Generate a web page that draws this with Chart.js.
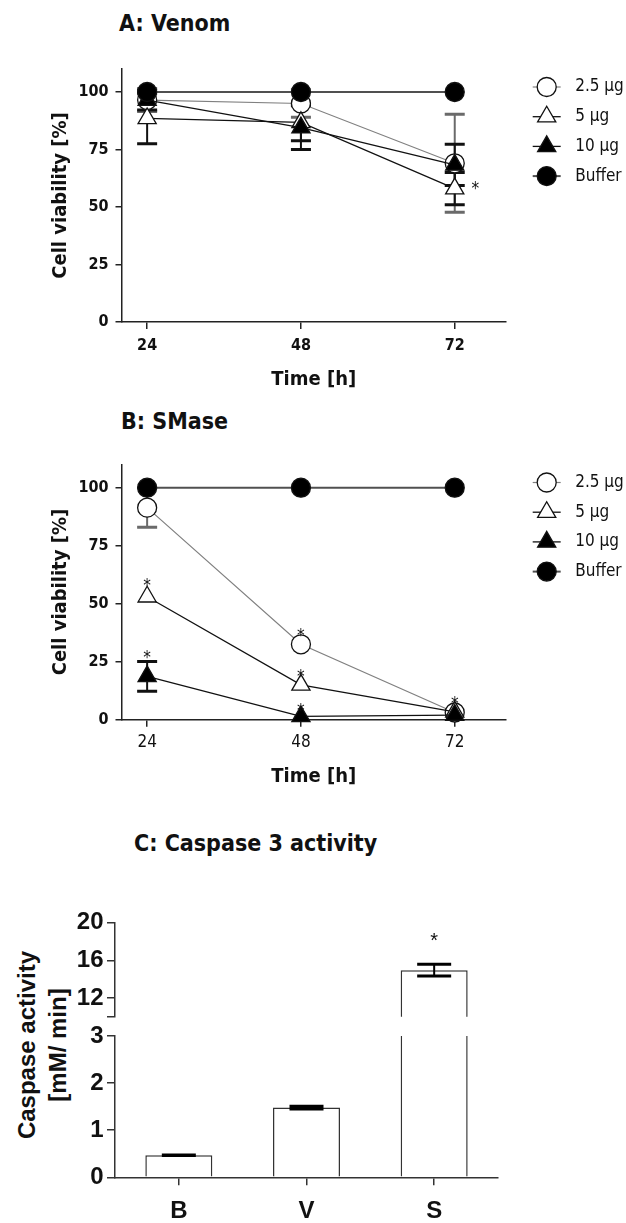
<!DOCTYPE html>
<html>
<head>
<meta charset="utf-8">
<script src="https://cdn.jsdelivr.net/npm/chart.js@4.4.1/dist/chart.umd.min.js"></script>
<style>
html,body{margin:0;padding:0;background:#fff;}
body{width:626px;height:1223px;position:relative;overflow:hidden;}
canvas{position:absolute;left:0;}
.ttl{position:absolute;font-family:"DejaVu Sans Condensed","DejaVu Sans",sans-serif;font-weight:bold;font-size:23px;line-height:23px;color:#111;white-space:nowrap;}
#cYTitle{position:absolute;width:220px;height:62px;left:-68px;top:1014px;transform:rotate(-90deg);transform-origin:50% 50%;
  font-family:"Liberation Sans",Arial,sans-serif;font-weight:bold;font-size:24px;line-height:31px;text-align:center;color:#111;white-space:nowrap;}
</style>
</head>
<body>
<div class="ttl" style="left:119px;top:12px;">A: Venom</div>
<div class="ttl" style="left:121px;top:410px;">B: SMase</div>
<div class="ttl" style="left:134px;top:832px;">C: Caspase 3 activity</div>
<div id="cYTitle">Caspase activity<br>[mM/ min]</div>

<canvas id="cA" width="626" height="400" style="top:0px;width:626px;height:400px;"></canvas>
<canvas id="cB" width="626" height="400" style="top:400px;width:626px;height:400px;"></canvas>
<canvas id="cC1" width="626" height="160" style="top:880px;width:626px;height:160px;"></canvas>
<canvas id="cC2" width="626" height="223" style="top:1000px;width:626px;height:223px;"></canvas>

<script>
// ---------------- data ----------------
const hours = [24, 48, 72];
const viabilityTicks = [0, 25, 50, 75, 100];
const doseLabels = ['2.5 \u03bcg', '5 \u03bcg', '10 \u03bcg', 'Buffer'];

// Panel A: Venom
const venom25 = [96.5, 95.0, 69.0];
const venom25Err = [5.0, 6.0, 21.3];
const venom5 = [88.5, 86.8, 58.0];
const venom5Err = [11.0, 8.0, 7.0];
const venom10 = [96.5, 84.5, 68.3];
const venom10Err = [4.3, 9.5, 9.0];
const venomBuffer = [100, 100, 100];
const venomBufferErr = [0, 0, 0];
const venomStars = [[75.2, 60]];

// Panel B: SMase
const smase25 = [91.4, 32.5, 3.1];
const smase25Err = [8.5, 0, 0];
const smase5 = [53.0, 15.0, 3.4];
const smase5Err = [0, 0, 0];
const smase10 = [18.7, 1.4, 2.0];
const smase10Err = [6.4, 0, 0];
const smaseBuffer = [100, 100, 100];
const smaseBufferErr = [0, 0, 0];
const smaseStars = [[24, 60], [24, 28.8], [48, 38.3], [48, 20.8], [48, 6.2], [72, 9.2]];

// Panel C: Caspase 3 activity
const caspaseGroups = ['B', 'V', 'S'];
const caspaseValues = [0.47, 1.48, 14.95];
const caspaseErr = [0.006, 0.03, 0.62];
const caspaseLowTicks = [0, 1, 2, 3];
const caspaseHighTicks = [10, 12, 16, 20];
const caspaseStars = [['S', 18.7]];

// ---------------- styles ----------------
const F = '"DejaVu Sans Condensed","DejaVu Sans",sans-serif';
const FA = '"Liberation Sans",Arial,sans-serif';
const AX = '#222';
const seriesStyle = [
  {line:'#808080', lw:1.2, shape:'circle',   r:9.5,  fill:'#ffffff', err:'#6a6a6a', order:4},
  {line:'#111111', lw:1.3, shape:'triangle', r:10.5, fill:'#ffffff', err:'#111111', order:3},
  {line:'#111111', lw:1.3, shape:'triangle', r:10.5, fill:'#000000', err:'#111111', order:2},
  {line:'#505050', lw:2.0, shape:'circle',   r:9.5,  fill:'#000000', err:'#111111', order:1}
];

function makeLineSets(valsList, errList) {
  return valsList.map((vals, k) => {
    const s = seriesStyle[k];
    return {
      label: doseLabels[k],
      data: hours.map((h, i) => ({x: h, y: vals[i]})),
      errVals: vals, errors: errList[k], errColor: s.err, shape: s.shape,
      borderColor: s.line, borderWidth: s.lw,
      pointStyle: s.shape, pointRadius: s.r, pointHoverRadius: s.r,
      pointBackgroundColor: s.fill, pointBorderColor: '#111', pointBorderWidth: 1.3,
      fill: false, tension: 0, clip: false, order: s.order
    };
  });
}

// ---------------- plugins ----------------
function makeErrPlugin(layer, capHalf, capW, stemW, clipExact) {
  function draw(chart) {
    const ctx = chart.ctx, ca = chart.chartArea;
    ctx.save();
    ctx.beginPath();
    if (clipExact) ctx.rect(ca.left - 40, ca.top, ca.right - ca.left + 80, ca.bottom - ca.top);
    else ctx.rect(0, 0, chart.width, chart.height);
    ctx.clip();
    chart.data.datasets.forEach((ds, d) => {
      if (!ds.errors) return;
      const meta = chart.getDatasetMeta(d);
      const ys = chart.scales[meta.yAxisID];
      ds.errors.forEach((e, i) => {
        if (!e || ds.errVals[i] == null) return;
        const el = meta.data[i];
        if (!el) return;
        const x = el.x;
        const yT = ys.getPixelForValue(ds.errVals[i] + e);
        const yB = ys.getPixelForValue(ds.errVals[i] - e);
        ctx.strokeStyle = ds.errColor;
        ctx.lineCap = 'butt';
        ctx.lineWidth = stemW;
        ctx.beginPath(); ctx.moveTo(x, yT); ctx.lineTo(x, yB); ctx.stroke();
        ctx.lineWidth = capW;
        ctx.beginPath();
        ctx.moveTo(x - capHalf, yT); ctx.lineTo(x + capHalf, yT);
        ctx.moveTo(x - capHalf, yB); ctx.lineTo(x + capHalf, yB);
        ctx.stroke();
      });
    });
    ctx.restore();
  }
  return {
    id: 'errbars',
    beforeDatasetsDraw(chart) { if (layer === 'before') draw(chart); },
    afterDatasetsDraw(chart) { if (layer === 'after') draw(chart); }
  };
}

function makeStarPlugin(points, font, size, lift, yId) {
  return {
    id: 'stars',
    afterDatasetsDraw(chart) {
      const ctx = chart.ctx;
      const xs = chart.scales.x, ys = chart.scales[yId || 'y'];
      ctx.save();
      ctx.fillStyle = '#111';
      ctx.font = size + 'px ' + font;
      ctx.textAlign = 'center';
      ctx.textBaseline = 'alphabetic';
      points.forEach(([xv, yv]) => {
        const xi = typeof xv === 'string' ? caspaseGroups.indexOf(xv) : xv;
        const x = xs.getPixelForValue(xi);
        const y = ys.getPixelForValue(yv);
        ctx.fillText('*', x, y + lift * size);
      });
      ctx.restore();
    }
  };
}

function drawShape(ctx, shape, x, y, r, fill) {
  ctx.beginPath();
  if (shape === 'circle') {
    ctx.arc(x, y, r, 0, Math.PI * 2);
  } else {
    ctx.moveTo(x, y - r);
    ctx.lineTo(x + r * Math.sin(2 * Math.PI / 3), y + r / 2);
    ctx.lineTo(x - r * Math.sin(2 * Math.PI / 3), y + r / 2);
    ctx.closePath();
  }
  ctx.fillStyle = fill;
  ctx.fill();
  ctx.lineWidth = 1.3;
  ctx.strokeStyle = '#111';
  ctx.stroke();
}

function makeLegendPlugin(dx, top, step) {
  return {
    id: 'gpLegend',
    afterDraw(chart) {
      const ctx = chart.ctx, ca = chart.chartArea;
      ctx.save();
      chart.data.datasets.forEach((ds, i) => {
        const s = seriesStyle[i];
        const cx = ca.right + dx, cy = ca.top + top + i * step;
        ctx.strokeStyle = s.line; ctx.lineWidth = s.lw;
        ctx.beginPath(); ctx.moveTo(cx - 14, cy); ctx.lineTo(cx + 14, cy); ctx.stroke();
        drawShape(ctx, s.shape, cx, cy, s.r, s.fill);
        ctx.fillStyle = '#111';
        ctx.font = '17px ' + F;
        ctx.textAlign = 'left';
        ctx.textBaseline = 'middle';
        ctx.fillText(ds.label, cx + 28.5, cy);
      });
      ctx.restore();
    }
  };
}

// ---------------- viability charts ----------------
function viabilityChart(id, sets, stars, padTop, xBold, xTickPad, xTitlePad, xHeight) {
  return new Chart(document.getElementById(id), {
    type: 'line',
    data: {datasets: sets},
    options: {
      responsive: false, animation: false, devicePixelRatio: 1,
      layout: {padding: {left: 0, right: 120, top: padTop, bottom: 0}},
      plugins: {legend: {display: false}, tooltip: {enabled: false}, title: {display: false}},
      scales: {
        x: {
          type: 'linear', min: 20, max: 80,
          afterBuildTicks: s => { s.ticks = hours.map(v => ({value: v})); },
          afterFit: s => { s.height = xHeight; },
          grid: {drawOnChartArea: false, drawTicks: true, tickLength: 7, color: AX, lineWidth: 1.5},
          border: {display: true, color: AX, width: 1.5},
          ticks: {color: '#111', padding: xTickPad, autoSkip: false, maxRotation: 0,
                  font: {family: F, size: xBold ? 16 : 17, weight: xBold ? 'bold' : 'normal'}},
          title: {display: true, text: 'Time [h]', color: '#111',
                  font: {family: F, size: 20, weight: 'bold'}, padding: {top: 0, bottom: xTitlePad}}
        },
        y: {
          type: 'linear', min: 0, max: 110,
          afterBuildTicks: s => { s.ticks = viabilityTicks.map(v => ({value: v})); },
          afterFit: s => { s.width = 121.5; },
          grid: {drawOnChartArea: false, drawTicks: true, tickLength: 6, color: AX, lineWidth: 1.5},
          border: {display: true, color: AX, width: 1.5},
          ticks: {color: '#111', padding: 7, autoSkip: false, font: {family: F, size: 16, weight: 'bold'}},
          title: {display: true, text: 'Cell viability [%]', color: '#111',
                  font: {family: F, size: 20, weight: 'bold'}, padding: {top: 49, bottom: 0}}
        }
      }
    },
    plugins: [makeErrPlugin('before', 10, 3, 2, false), makeStarPlugin(stars, F, 17, 0.6), makeLegendPlugin(40.7, 18, 29.7)]
  });
}

viabilityChart('cA',
  makeLineSets([venom25, venom5, venom10, venomBuffer], [venom25Err, venom5Err, venom10Err, venomBufferErr]),
  venomStars, 69, true, 7, 8, 78);

viabilityChart('cB',
  makeLineSets([smase25, smase5, smase10, smaseBuffer], [smase25Err, smase5Err, smase10Err, smaseBufferErr]),
  smaseStars, 64.5, false, 5.5, 11.3, 80.3);

// ---------------- caspase charts (broken axis) ----------------
function barSet() {
  return {
    data: caspaseValues, errVals: caspaseValues, errors: caspaseErr, errColor: '#000',
    backgroundColor: '#ffffff', borderColor: '#333', borderWidth: 1.5, borderSkipped: 'start',
    barPercentage: 0.525, categoryPercentage: 1.0
  };
}
function casY(min, max, tickVals, hideFirst) {
  return {
    type: 'linear', min: min, max: max,
    afterBuildTicks: s => { s.ticks = tickVals.map(v => ({value: v})); },
    afterFit: s => { s.width = 115; },
    grid: {drawOnChartArea: false, drawTicks: true, tickLength: 8, color: '#333', lineWidth: 1.5},
    border: {display: true, color: '#333', width: 1.5},
    ticks: {color: '#111', padding: 3.5, autoSkip: false, font: {family: FA, size: 24, weight: 'bold'},
            callback: v => (hideFirst && v === tickVals[0]) ? '' : String(v)}
  };
}

new Chart(document.getElementById('cC1'), {
  type: 'bar',
  data: {labels: caspaseGroups, datasets: [barSet()]},
  options: {
    responsive: false, animation: false, devicePixelRatio: 1,
    layout: {padding: {left: 0, right: 128, top: 42.7, bottom: 23.3}},
    plugins: {legend: {display: false}, tooltip: {enabled: false}},
    scales: {
      x: {type: 'category', display: false, offset: true},
      y: casY(10, 20, caspaseHighTicks, true)
    }
  },
  plugins: [makeErrPlugin('after', 17, 3, 2, true), makeStarPlugin(caspaseStars, FA, 20, 0.58)]
});

new Chart(document.getElementById('cC2'), {
  type: 'bar',
  data: {labels: caspaseGroups, datasets: [barSet()]},
  options: {
    responsive: false, animation: false, devicePixelRatio: 1,
    layout: {padding: {left: 0, right: 128, top: 36, bottom: 0}},
    plugins: {legend: {display: false}, tooltip: {enabled: false}},
    scales: {
      x: {
        type: 'category', offset: true,
        afterFit: s => { s.height = 45.7; },
        grid: {drawOnChartArea: false, offset: false, drawTicks: true, tickLength: 8, color: '#333', lineWidth: 1.5},
        border: {display: true, color: '#333', width: 1.5},
        ticks: {color: '#111', padding: 12, font: {family: FA, size: 24, weight: 'bold'}}
      },
      y: casY(0, 3, caspaseLowTicks, false)
    }
  },
  plugins: [makeErrPlugin('after', 17, 3, 2, true)]
});
</script>
</body>
</html>
